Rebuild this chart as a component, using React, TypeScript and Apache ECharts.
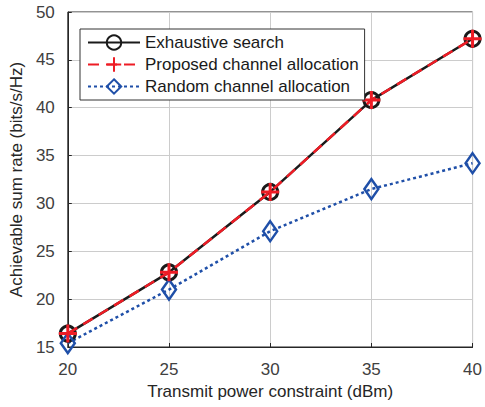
import React, { useEffect, useRef } from "react";
import * as echarts from "echarts";

const xValues = [20, 25, 30, 35, 40];
const exhaustive = [16.4, 22.8, 31.2, 40.8, 47.2];
const proposed = [16.4, 22.8, 31.2, 40.8, 47.2];
const random = [15.4, 21.0, 27.1, 31.5, 34.2];
const seriesNames = ["Exhaustive search", "Proposed channel allocation", "Random channel allocation"];

const plusPath = "path://M0,5 L10,5 M5,0 L5,10";

export default function App() {
  const ref = useRef<HTMLDivElement>(null);
  useEffect(() => {
    if (!ref.current) return;
    const chart = echarts.init(ref.current, undefined, { renderer: "svg" });
    const font = "Liberation Sans, Arial, sans-serif";
    const toData = (arr: number[]) => arr.map((v, i) => [xValues[i], v]);
    chart.setOption({
      animation: false,
      backgroundColor: "#ffffff",
      textStyle: { fontFamily: font },
      grid: { left: 63, top: 12, right: 12, bottom: 60, show: true, borderColor: "#262626", borderWidth: 1, backgroundColor: "transparent" },
      legend: {
        orient: "vertical",
        left: 80,
        top: 29,
        itemWidth: 52,
        itemHeight: 18,
        itemGap: 5,
        padding: [5, 6, 5, 7],
        backgroundColor: "#ffffff",
        borderColor: "#333333",
        borderWidth: 1,
        borderRadius: 0,
        textStyle: { fontSize: 17, color: "#1a1a1a", fontFamily: font },
        data: seriesNames,
      },
      xAxis: {
        type: "value",
        min: 20,
        max: 40,
        interval: 5,
        name: "Transmit power constraint (dBm)",
        nameLocation: "middle",
        nameGap: 36,
        nameTextStyle: { fontSize: 17, color: "#262626" },
        axisLine: { show: true, lineStyle: { color: "#262626" } },
        axisTick: { show: true, inside: true, length: 4, lineStyle: { color: "#262626" } },
        axisLabel: { fontSize: 17, color: "#404040", margin: 14 },
        splitLine: { show: true, lineStyle: { color: "#cccccc", width: 1 } },
      },
      yAxis: {
        type: "value",
        min: 15,
        max: 50,
        interval: 5,
        name: "Achievable sum rate (bits/s/Hz)",
        nameLocation: "middle",
        nameGap: 42,
        nameTextStyle: { fontSize: 17, color: "#262626" },
        axisLine: { show: true, lineStyle: { color: "#262626" } },
        axisTick: { show: true, inside: true, length: 4, lineStyle: { color: "#262626" } },
        axisLabel: { fontSize: 17, color: "#404040", margin: 13 },
        splitLine: { show: true, lineStyle: { color: "#cccccc", width: 1 } },
      },
      series: [
        {
          name: seriesNames[0],
          type: "line",
          data: toData(exhaustive),
          symbol: "circle",
          symbolSize: 15,
          lineStyle: { color: "#1a1a1a", width: 2.5 },
          itemStyle: { color: "rgba(0,0,0,0)", borderColor: "#1a1a1a", borderWidth: 3 },
          z: 2,
        },
        {
          name: seriesNames[1],
          type: "line",
          data: toData(proposed),
          symbol: plusPath,
          symbolSize: 18,
          lineStyle: { color: "#ee1c25", width: 2.5, type: [11, 7] },
          itemStyle: { color: "rgba(0,0,0,0)", borderColor: "#ee1c25", borderWidth: 3 },
          z: 3,
        },
        {
          name: seriesNames[2],
          type: "line",
          data: toData(random),
          symbol: "diamond",
          symbolSize: [14, 20],
          lineStyle: { color: "#1f4fa8", width: 2.5, type: [3, 3] },
          itemStyle: { color: "rgba(0,0,0,0)", borderColor: "#1f4fa8", borderWidth: 2.5 },
          z: 2,
        },
      ],
    });
    return () => chart.dispose();
  }, []);
  return <div ref={ref} style={{ position: "absolute", left: 0, top: 0, width: 485, height: 407 }} />;
}
